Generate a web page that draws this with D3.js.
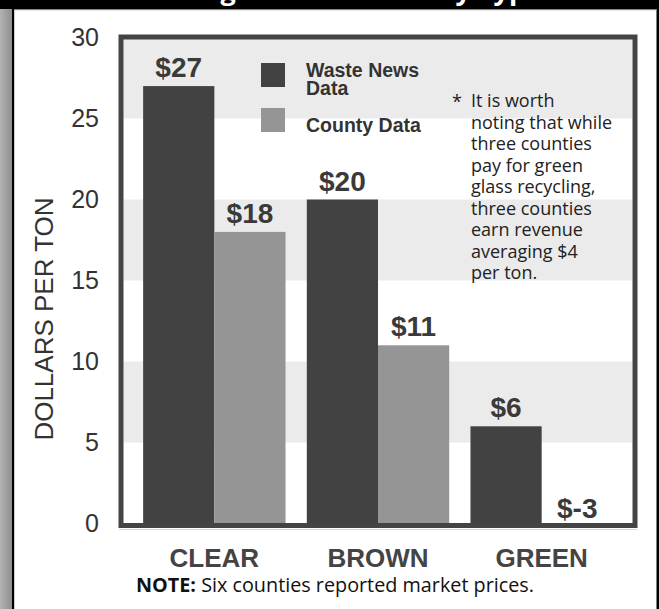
<!DOCTYPE html>
<html>
<head>
<meta charset="utf-8">
<script src="https://cdn.jsdelivr.net/npm/d3@7"></script>
<style>
  html, body { margin: 0; padding: 0; background: #fff; }
  svg { display: block; }
</style>
</head>
<body>
<script>
// Glass recycling market prices, dollars per ton
const categories = ["CLEAR", "BROWN", "GREEN"];
const seriesNames = ["Waste News Data", "County Data"];
const wasteNewsValues = [27, 20, 6];
const countyValues = [18, 11, -3];
const yTicks = [0, 5, 10, 15, 20, 25, 30];
const titleText = "Average Market Price by Type";
const yAxisTitle = "DOLLARS PER TON";
const footnoteLines = [
  "It is worth",
  "noting that while",
  "three counties",
  "pay for green",
  "glass recycling,",
  "three counties",
  "earn revenue",
  "averaging $4",
  "per ton."
];
const noteLabel = "NOTE:";
const noteText = " Six counties reported market prices.";

const W = 659, H = 609;
const colors = { waste: "#424242", county: "#959595", band: "#ebebeb", frame: "#444444", text: "#3a3a3a" };

const rows = categories.map((c, i) => ({ category: c, values: [
  { key: seriesNames[0], value: wasteNewsValues[i] },
  { key: seriesNames[1], value: countyValues[i] }
]}));

const svg = d3.select("body").append("svg").attr("width", W).attr("height", H);

const defs = svg.append("defs");
const grad = defs.append("linearGradient").attr("id", "edgeGrad").attr("x1", 0).attr("x2", 1);
grad.append("stop").attr("offset", 0).attr("stop-color", "#b3b3b3");
grad.append("stop").attr("offset", 1).attr("stop-color", "#8e8e8e");

// page frame: gray edge, black rules, header strip
svg.append("rect").attr("x", 0).attr("y", 0).attr("width", 12).attr("height", H).attr("fill", "url(#edgeGrad)");
svg.append("rect").attr("x", 12).attr("y", 0).attr("width", 2.2).attr("height", H).attr("fill", "#000");
svg.append("rect").attr("x", 656.5).attr("y", 0).attr("width", 2.5).attr("height", H).attr("fill", "#000");
svg.append("rect").attr("x", 0).attr("y", 0).attr("width", W).attr("height", 9).attr("fill", "#000");
svg.append("rect").attr("x", 14).attr("y", 9).attr("width", 642.5).attr("height", 1.2).attr("fill", "#8a8a8a");
svg.append("text")
  .attr("x", 342).attr("y", 0)
  .attr("text-anchor", "middle")
  .attr("font-family", "'Open Sans', sans-serif")
  .attr("font-weight", 700)
  .attr("font-size", 27)
  .attr("fill", "#fff")
  .text(titleText);

// plot area
const plot = { left: 123.5, right: 632.5, top: 37.5, bottom: 523.5 };

const y = d3.scaleLinear().domain([0, 30]).range([plot.bottom, plot.top]);
const x0 = d3.scaleBand().domain(categories).range([plot.left, plot.right]).paddingInner(0.13).paddingOuter(0.12);
const x1 = d3.scaleBand().domain(seriesNames).range([0, x0.bandwidth()]);
const fill = d3.scaleOrdinal().domain(seriesNames).range([colors.waste, colors.county]);

// alternating background bands
const bandPairs = [[5, 10], [15, 20], [25, 30]];
svg.append("g").selectAll("rect").data(bandPairs).join("rect")
  .attr("x", plot.left).attr("width", plot.right - plot.left)
  .attr("y", d => y(d[1])).attr("height", d => y(d[0]) - y(d[1]))
  .attr("fill", colors.band);

defs.append("clipPath").attr("id", "plotClip").append("rect")
  .attr("x", plot.left).attr("y", plot.top)
  .attr("width", plot.right - plot.left).attr("height", plot.bottom - plot.top);

// bars
const groups = svg.append("g").attr("clip-path", "url(#plotClip)")
  .selectAll("g").data(rows).join("g")
  .attr("transform", d => `translate(${x0(d.category)},0)`);

groups.selectAll("rect").data(d => d.values).join("rect")
  .attr("x", d => x1(d.key))
  .attr("width", x1.bandwidth())
  .attr("y", d => y(Math.max(0, d.value)))
  .attr("height", d => Math.abs(y(d.value) - y(0)))
  .attr("fill", d => fill(d.key));

// value labels
const labelGroups = svg.append("g").selectAll("g").data(rows).join("g")
  .attr("transform", d => `translate(${x0(d.category)},0)`);
labelGroups.selectAll("text").data(d => d.values).join("text")
  .attr("x", d => x1(d.key) + x1.bandwidth() / 2)
  .attr("y", d => d.value >= 0 ? y(d.value) - 9 : y(0) - 6)
  .attr("text-anchor", "middle")
  .attr("font-family", "'Liberation Sans', Arial, sans-serif")
  .attr("font-weight", 700)
  .attr("font-size", 28)
  .attr("fill", colors.text)
  .text(d => "$" + d.value);

// frame around plot
svg.append("rect")
  .attr("x", 121).attr("y", 37)
  .attr("width", 514).attr("height", 488.5)
  .attr("fill", "none")
  .attr("stroke", colors.frame)
  .attr("stroke-width", 5);
svg.append("line").attr("x1", 119).attr("x2", 637).attr("y1", 529.5).attr("y2", 529.5)
  .attr("stroke", "#d6d6d6").attr("stroke-width", 1.2);

// y axis
const yAxis = svg.append("g")
  .attr("transform", `translate(121,0)`)
  .call(d3.axisLeft(y).tickValues(yTicks).tickSize(0).tickPadding(22));
yAxis.select(".domain").remove();
yAxis.selectAll("text")
  .attr("font-family", "'Liberation Sans', Arial, sans-serif")
  .attr("font-size", 25)
  .attr("fill", "#333");

svg.append("text")
  .attr("transform", `translate(53,319) rotate(-90)`)
  .attr("text-anchor", "middle")
  .attr("font-family", "'Liberation Sans', Arial, sans-serif")
  .attr("font-size", 26)
  .attr("fill", "#333")
  .text(yAxisTitle);

// x axis
const xAxis = svg.append("g")
  .attr("transform", `translate(0,${plot.bottom})`)
  .call(d3.axisBottom(x0).tickSize(0).tickPadding(25));
xAxis.select(".domain").remove();
xAxis.selectAll("text")
  .attr("font-family", "'Liberation Sans', Arial, sans-serif")
  .attr("font-weight", 700)
  .attr("font-size", 26)
  .attr("fill", "#444");

// legend
const legend = svg.append("g");
const legendRows = [
  { key: seriesNames[0], lines: ["Waste News", "Data"], y: 63 },
  { key: seriesNames[1], lines: ["County Data"], y: 108 }
];
legendRows.forEach(r => {
  legend.append("rect").attr("x", 261).attr("y", r.y).attr("width", 24).attr("height", 24)
    .attr("fill", fill(r.key));
  const t = legend.append("text")
    .attr("font-family", "'Liberation Sans', Arial, sans-serif")
    .attr("font-weight", 700)
    .attr("font-size", 19.5)
    .attr("fill", "#333");
  r.lines.forEach((ln, i) => {
    t.append("tspan").attr("x", 306).attr("y", (r.lines.length > 1 ? r.y + 14 : r.y + 24) + i * 17.5).text(ln);
  });
});

// footnote beside legend
const foot = svg.append("g")
  .attr("font-family", "'Open Sans', sans-serif")
  .attr("font-size", 18)
  .attr("fill", "#222");
foot.append("text").attr("x", 452).attr("y", 108).text("*");
foot.append("text").selectAll("tspan").data(footnoteLines).join("tspan")
  .attr("x", 471).attr("y", (d, i) => 107 + i * 21.5)
  .text(d => d);

// note below chart
const note = svg.append("text")
  .attr("x", 136).attr("y", 592)
  .attr("font-family", "'Open Sans', sans-serif")
  .attr("font-size", 19.8)
  .attr("fill", "#111");
note.append("tspan").attr("font-weight", 700).text(noteLabel);
note.append("tspan").text(noteText);
</script>
</body>
</html>
